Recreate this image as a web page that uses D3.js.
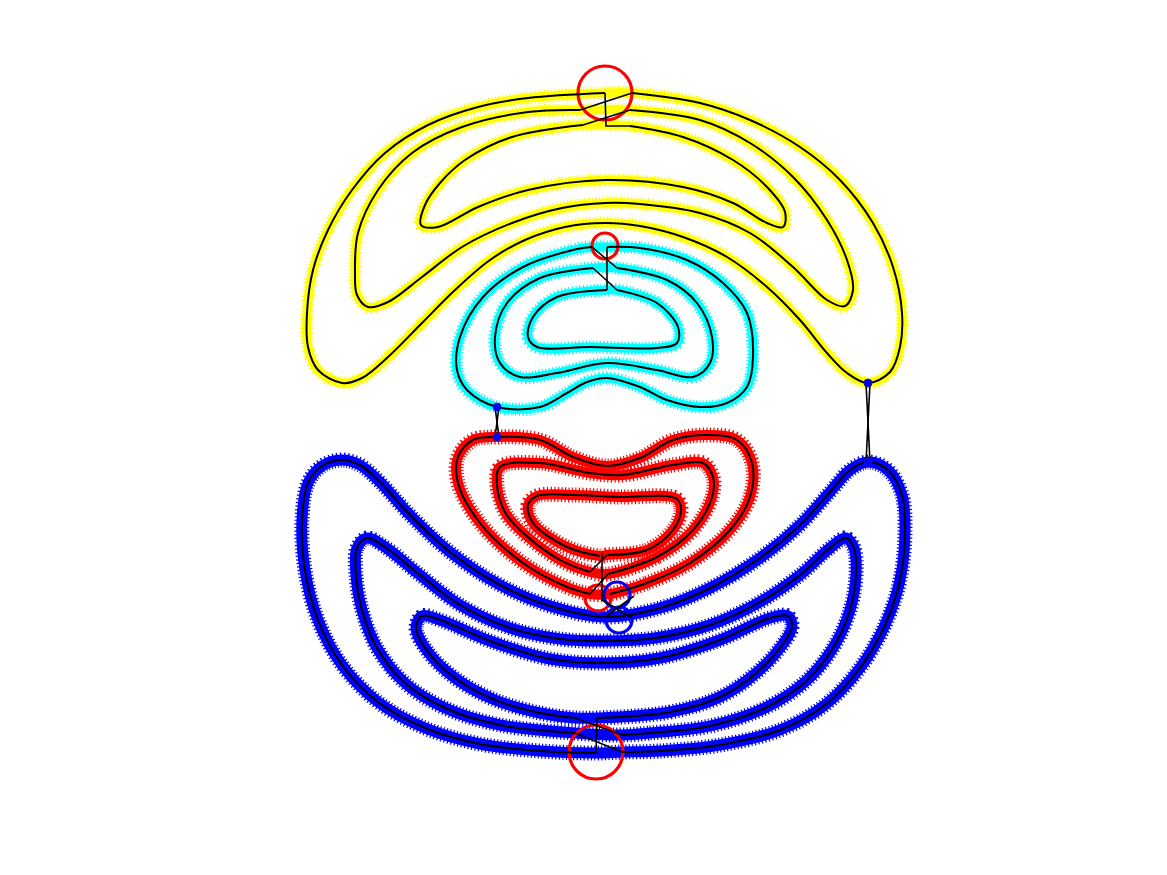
<!DOCTYPE html>
<html>
<head>
<meta charset="utf-8">
<script src="https://cdn.jsdelivr.net/npm/d3@7"></script>
<style>
html,body{margin:0;padding:0;background:#fff;}
svg{display:block;}
</style>
</head>
<body>
<svg id="chart" width="1167" height="875"></svg>
<script>
// ---- data (x, y in plot units) ----
const yellowOuter = [[0.27,3.27],[0.95,3.17],[1.45,3.00],[1.95,2.73],[2.35,2.40],[2.68,1.97],[2.88,1.53],[2.97,1.07],[2.95,0.73],[2.85,0.48],[2.63,0.37],[2.42,0.47],[2.22,0.67],[1.95,1.00],[1.62,1.33],[1.22,1.63],[0.78,1.83],[0.35,1.94],[0.00,1.97],[-0.40,1.93],[-0.80,1.80],[-1.15,1.60],[-1.50,1.30],[-1.83,0.97],[-2.17,0.63],[-2.43,0.42],[-2.63,0.37],[-2.87,0.50],[-2.97,0.73],[-2.98,1.07],[-2.92,1.50],[-2.77,1.90],[-2.53,2.30],[-2.20,2.67],[-1.77,2.95],[-1.27,3.13],[-0.77,3.22],[0.00,3.27]];
const yellowMiddle = [[0.25,3.10],[0.95,3.00],[1.45,2.77],[1.88,2.43],[2.22,2.00],[2.42,1.60],[2.48,1.30],[2.40,1.14],[2.22,1.20],[1.88,1.53],[1.45,1.87],[0.95,2.07],[0.35,2.16],[0.00,2.17],[-0.43,2.12],[-0.93,1.97],[-1.43,1.73],[-1.83,1.43],[-2.17,1.18],[-2.37,1.13],[-2.48,1.25],[-2.50,1.47],[-2.47,1.87],[-2.27,2.30],[-1.93,2.67],[-1.43,2.93],[-0.77,3.08],[-0.25,3.10]];
const yellowInner = [[0.25,2.94],[0.78,2.83],[1.28,2.60],[1.62,2.33],[1.80,2.08],[1.78,1.93],[1.62,1.97],[1.28,2.17],[0.78,2.33],[0.00,2.40],[-0.77,2.30],[-1.27,2.13],[-1.67,1.93],[-1.84,1.95],[-1.80,2.15],[-1.65,2.37],[-1.40,2.60],[-0.93,2.83],[-0.22,2.95]];

const cyanOuter = [[0.02,1.73],[0.35,1.72],[0.82,1.60],[1.18,1.37],[1.42,1.07],[1.48,0.63],[1.42,0.33],[1.22,0.17],[0.95,0.13],[0.62,0.20],[0.35,0.33],[0.02,0.42],[-0.18,0.38],[-0.38,0.27],[-0.65,0.13],[-1.08,0.13],[-1.38,0.30],[-1.48,0.50],[-1.45,0.83],[-1.22,1.23],[-0.82,1.53],[-0.32,1.70],[-0.13,1.73]];
const cyanMiddle = [[0.12,1.52],[0.62,1.40],[0.92,1.17],[1.07,0.83],[1.05,0.57],[0.88,0.43],[0.52,0.50],[0.02,0.57],[-0.48,0.47],[-0.85,0.43],[-1.05,0.57],[-1.10,0.83],[-0.98,1.17],[-0.65,1.42],[-0.12,1.52]];
const cyanInner = [[0.12,1.30],[0.52,1.17],[0.73,0.93],[0.72,0.77],[0.52,0.72],[-0.15,0.73],[-0.68,0.73],[-0.77,0.83],[-0.72,1.03],[-0.48,1.23],[0.02,1.30]];

const redOuter = [[0.05,-1.74],[0.42,-1.63],[0.85,-1.43],[1.25,-1.10],[1.45,-0.77],[1.47,-0.43],[1.32,-0.20],[1.02,-0.15],[0.68,-0.20],[0.35,-0.38],[0.02,-0.46],[-0.32,-0.37],[-0.65,-0.20],[-1.08,-0.17],[-1.32,-0.20],[-1.47,-0.37],[-1.47,-0.63],[-1.25,-1.03],[-0.82,-1.43],[-0.38,-1.67],[-0.15,-1.74]];
const redMiddle = [[0.03,-1.54],[0.52,-1.37],[0.88,-1.10],[1.07,-0.77],[1.08,-0.57],[0.98,-0.43],[0.68,-0.45],[0.18,-0.55],[-0.15,-0.53],[-0.65,-0.43],[-1.05,-0.47],[-1.08,-0.65],[-1.00,-0.92],[-0.85,-1.10],[-0.45,-1.40],[-0.15,-1.52]];
const redInner = [[0.02,-1.35],[0.42,-1.30],[0.68,-1.10],[0.76,-0.90],[0.72,-0.79],[0.60,-0.76],[0.18,-0.77],[-0.32,-0.75],[-0.68,-0.76],[-0.77,-0.85],[-0.72,-1.03],[-0.38,-1.27],[-0.05,-1.36]];

const blueOuter = [[0.17,-3.32],[0.55,-3.31],[1.15,-3.25],[1.75,-3.10],[2.20,-2.85],[2.55,-2.48],[2.80,-2.05],[2.95,-1.60],[3.00,-1.10],[2.97,-0.75],[2.83,-0.50],[2.63,-0.42],[2.45,-0.50],[2.25,-0.72],[1.95,-1.05],[1.55,-1.38],[1.05,-1.68],[0.55,-1.88],[0.00,-1.97],[-0.55,-1.86],[-1.05,-1.65],[-1.55,-1.32],[-1.95,-0.95],[-2.25,-0.62],[-2.45,-0.45],[-2.63,-0.40],[-2.83,-0.46],[-2.97,-0.63],[-3.03,-1.00],[-3.00,-1.50],[-2.87,-2.00],[-2.63,-2.45],[-2.27,-2.82],[-1.80,-3.08],[-1.25,-3.24],[-0.65,-3.31],[-0.09,-3.33]];
const blueMiddle = [[0.17,-3.15],[0.45,-3.13],[1.05,-3.06],[1.60,-2.88],[2.00,-2.62],[2.28,-2.28],[2.45,-1.90],[2.51,-1.55],[2.49,-1.28],[2.41,-1.18],[2.25,-1.28],[1.95,-1.55],[1.55,-1.82],[1.05,-2.05],[0.50,-2.18],[0.00,-2.21],[-0.45,-2.19],[-0.95,-2.08],[-1.45,-1.85],[-1.85,-1.55],[-2.20,-1.27],[-2.38,-1.18],[-2.48,-1.28],[-2.49,-1.55],[-2.43,-1.90],[-2.28,-2.28],[-2.00,-2.63],[-1.60,-2.88],[-1.05,-3.05],[-0.30,-3.13]];
const blueInner = [[-0.08,-2.98],[0.65,-2.92],[1.15,-2.77],[1.50,-2.54],[1.75,-2.28],[1.87,-2.07],[1.83,-1.96],[1.65,-1.98],[1.15,-2.20],[0.55,-2.38],[0.00,-2.43],[-0.55,-2.39],[-1.15,-2.21],[-1.65,-2.00],[-1.83,-1.96],[-1.89,-2.08],[-1.77,-2.32],[-1.50,-2.58],[-1.10,-2.80],[-0.65,-2.93],[-0.30,-2.98]];

// connector polylines between the levels
const connectors = [
  [[0.00,3.27],[0.01,2.94],[0.25,2.94]],
  [[-0.25,3.10],[0.27,3.27]],
  [[-0.22,2.95],[0.25,3.10]],
  [[-0.13,1.73],[0.12,1.52]],
  [[-0.12,1.52],[0.12,1.30]],
  [[0.02,1.30],[0.02,1.73]],
  [[-0.15,-1.74],[0.03,-1.54]],
  [[-0.15,-1.52],[0.02,-1.35]],
  [[-0.03,-1.33],[-0.03,-1.80],[0.27,-1.98]],
  [[0.00,-1.97],[0.29,-1.76]],
  [[-0.09,-3.33],[-0.08,-2.98]],
  [[-0.30,-2.98],[0.17,-3.15]],
  [[-0.30,-3.13],[0.17,-3.32]],
  [[2.61,0.37],[2.65,-0.42]],
  [[2.65,0.37],[2.61,-0.42]],
  [[-1.10,0.13],[-1.06,-0.17]],
  [[-1.06,0.13],[-1.10,-0.17]]
];
const saddlePoints = [[2.63,0.37],[-1.08,0.13],[-1.08,-0.17],[2.63,-0.42]];
const redRings = [[0.00,3.27,"big"],[0.00,1.74,"small"],[-0.07,-1.78,"small"],[-0.09,-3.32,"big"]];
const blueRings = [[0.12,-1.75],[0.14,-2.00]];

const groups = [
  {color:"#ffff00", rings:[yellowOuter,yellowMiddle,yellowInner], w:9, jag:13},
  {color:"#00ffff", rings:[cyanOuter,cyanMiddle,cyanInner], w:9, jag:13},
  {color:"#ff0000", rings:[redOuter,redMiddle,redInner], w:10, jag:15},
  {color:"#0000ff", rings:[blueOuter,blueMiddle,blueInner], w:11, jag:15}
];

// ---- drawing ----
const svg = d3.select("#chart");
const x = d3.scaleLinear().domain([-3,3]).range([305,905]);
const y = d3.scaleLinear().domain([-3.5,3.5]).range([770,70]);

const closedLine = d3.line().x(d=>x(d[0])).y(d=>y(d[1])).curve(d3.curveCatmullRomClosed.alpha(0.5));
const openLine = d3.line().x(d=>x(d[0])).y(d=>y(d[1])).curve(d3.curveCatmullRom.alpha(0.5));
const straight = d3.line().x(d=>x(d[0])).y(d=>y(d[1]));

// coloured marker bands
groups.forEach(g=>{
  g.rings.forEach(r=>{
    svg.append("path").attr("d",closedLine(r)).attr("fill","none")
      .attr("stroke",g.color).attr("stroke-width",g.jag)
      .attr("stroke-dasharray","1.2,2.3").attr("stroke-linejoin","round");
    svg.append("path").attr("d",closedLine(r)).attr("fill","none")
      .attr("stroke",g.color).attr("stroke-width",g.w).attr("stroke-linejoin","round");
  });
});

// rings marking path ends
svg.selectAll(".rr").data(redRings).enter().append("circle")
  .attr("cx",d=>x(d[0])).attr("cy",d=>y(d[1]))
  .attr("r",d=>d[2]==="big"?27:13)
  .attr("fill","none").attr("stroke","#ff0000").attr("stroke-width",3.2);
svg.selectAll(".br").data(blueRings).enter().append("circle")
  .attr("cx",d=>x(d[0])).attr("cy",d=>y(d[1]))
  .attr("r",13)
  .attr("fill","none").attr("stroke","#0000ff").attr("stroke-width",3.2);

// black traced lines
groups.forEach(g=>{
  g.rings.forEach(r=>{
    svg.append("path").attr("d",openLine(r)).attr("fill","none")
      .attr("stroke","#000").attr("stroke-width",2).attr("stroke-linejoin","round");
  });
});
connectors.forEach(c=>{
  svg.append("path").attr("d",straight(c)).attr("fill","none")
    .attr("stroke","#000").attr("stroke-width",1.6);
});

// saddle dots
svg.selectAll(".sd").data(saddlePoints).enter().append("circle")
  .attr("cx",d=>x(d[0])).attr("cy",d=>y(d[1]))
  .attr("r",4).attr("fill","#0000ff").attr("stroke","#1a1aa0").attr("stroke-width",0.8);
</script>
</body>
</html>
